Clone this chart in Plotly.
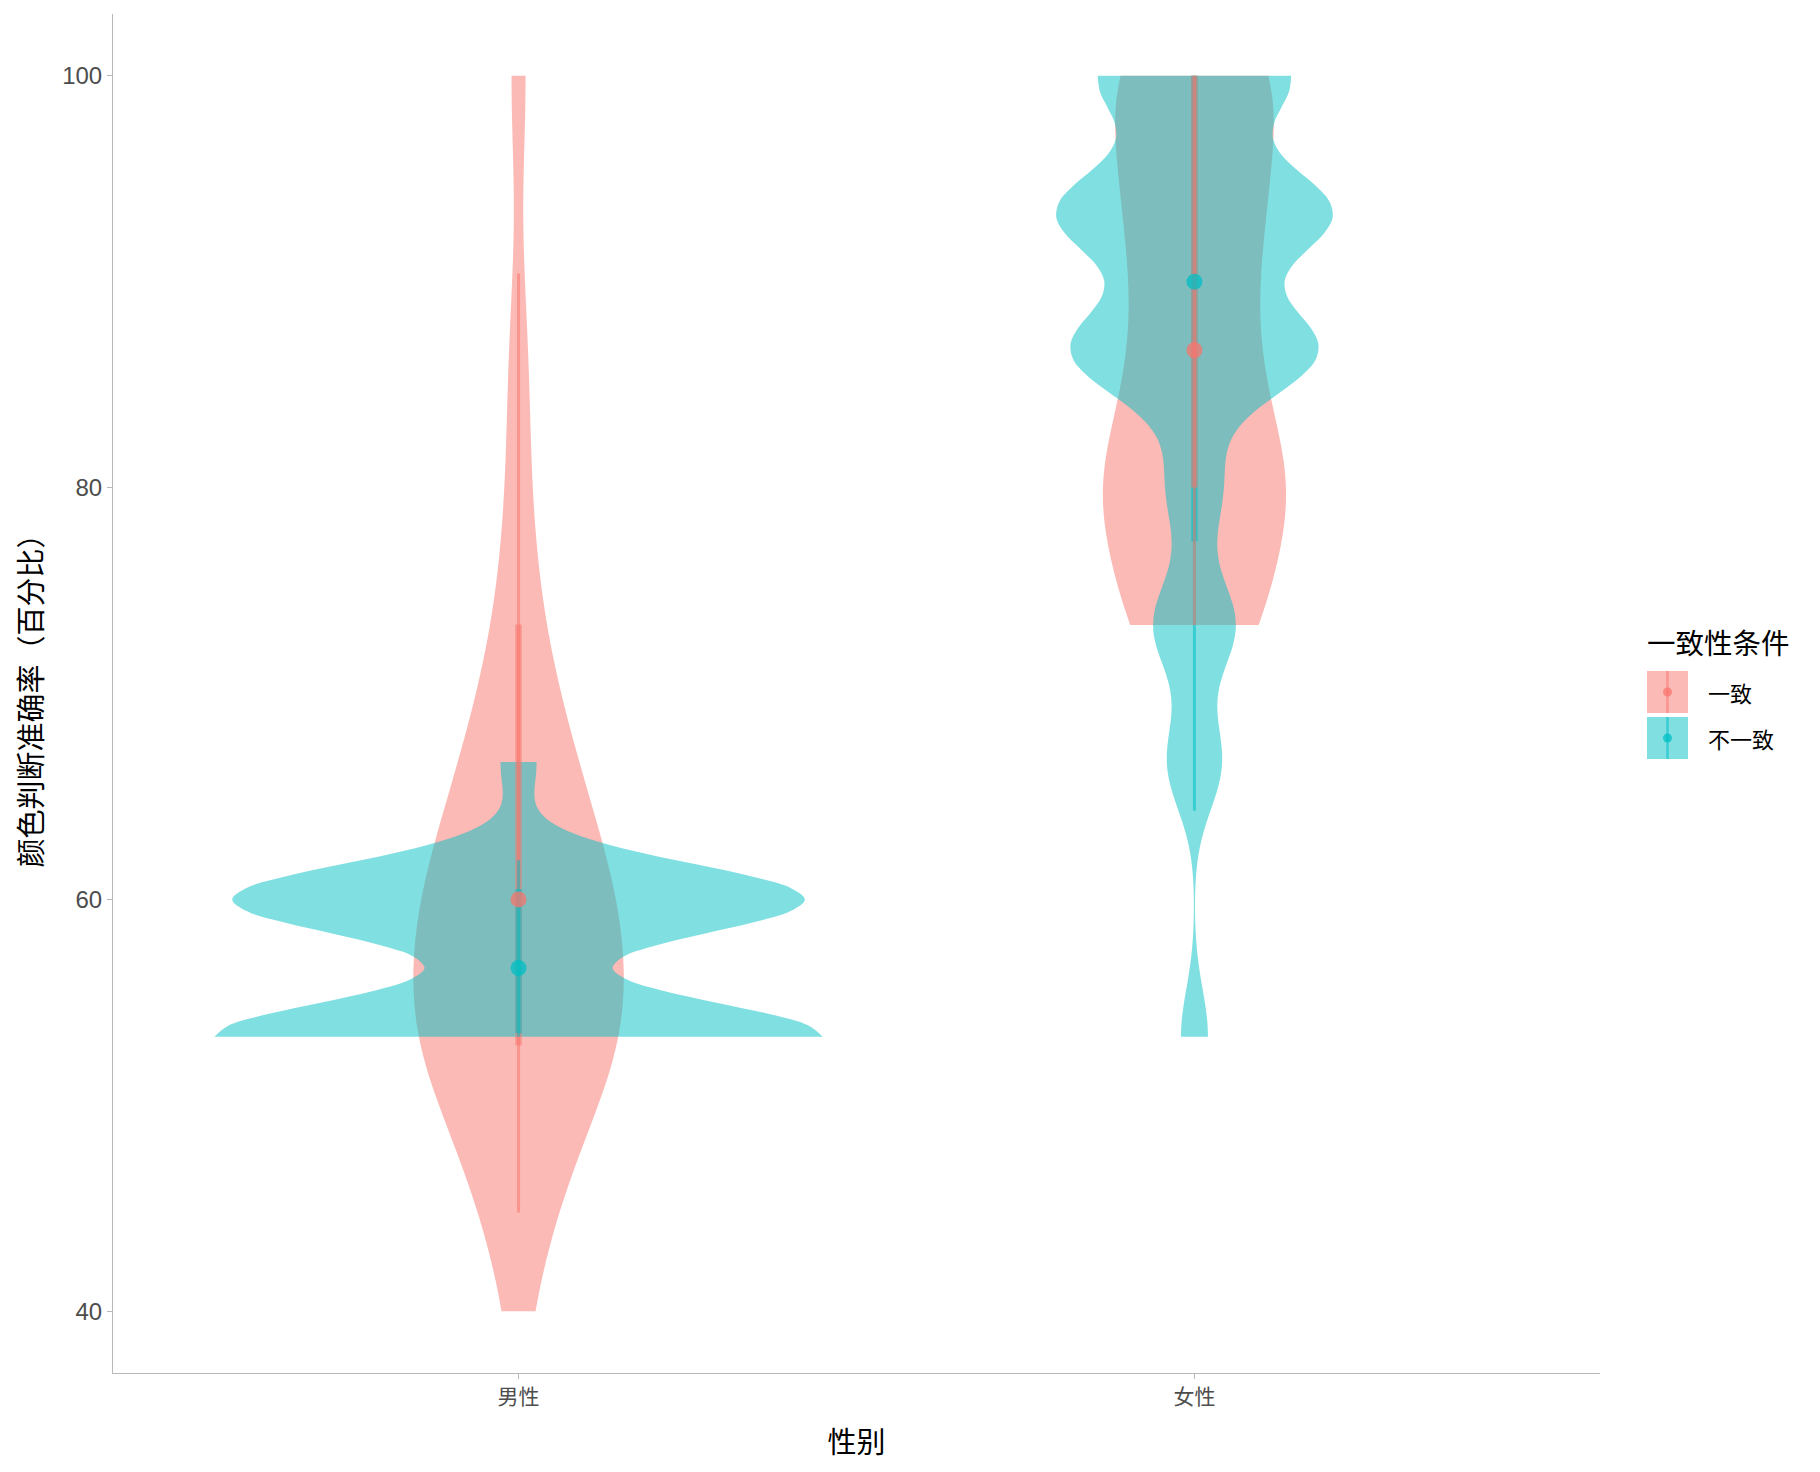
import numpy as np
import plotly.graph_objects as go

# ---------------- data ----------------
categories = ["男性", "女性"]
conditions = ["一致", "不一致"]

# accuracy levels (percent)
levels = [40.0, 46.67, 53.33, 60.0, 66.67, 73.33, 80.0, 86.67, 93.33, 100.0]

# number of observations at each level (estimated from the violins)
male_cong_counts = [1, 4, 10, 9, 5, 2, 1, 1, 0, 1]
male_incong_counts = [0, 0, 17, 16, 1, 0, 0, 0, 0, 0]
female_cong_counts = [0, 0, 0, 0, 0, 6, 9, 5, 6, 8]
female_incong_counts = [0, 0, 1, 0, 2, 3, 2, 9, 10, 7]

# kernel bandwidths (estimated from the violin shapes)
bw_male = [4.5, 1.74]      # 一致, 不一致
bw_female = [4.0, 2.3]

# summaries: median point, thin range, thick range
median_cong = [60.0, 86.67]
median_incong = [56.67, 90.0]
thin_lo_cong = [44.8, 73.33]
thin_hi_cong = [90.4, 100.0]
thin_lo_incong = [53.33, 64.3]
thin_hi_incong = [61.9, 100.0]
thick_lo_cong = [52.9, 80.0]
thick_hi_cong = [73.35, 100.0]
thick_lo_incong = [53.5, 77.4]
thick_hi_incong = [60.5, 100.0]

# ---------------- styling ----------------
RED = (248, 118, 109)
CYAN = (0, 191, 196)


def rgba(c, a):
    return "rgba(%d,%d,%d,%.3f)" % (c[0], c[1], c[2], a)


cond_colors = [RED, CYAN]
CJK = "Noto Sans CJK SC"

# the page body adds an 8 px offset; the figure is sized to fit the window
OFF = 8
W, H = 1812, 1464
ML, MR, MT, MB = 105, 220, 6, 99


def px_x(px):
    # page pixel -> paper coordinate
    return (px - OFF - ML) / (W - ML - MR)


def px_y(py):
    return (H - MB - (py - OFF)) / (H - MT - MB)


counts = {
    ("男性", 0): male_cong_counts,
    ("男性", 1): male_incong_counts,
    ("女性", 0): female_cong_counts,
    ("女性", 1): female_incong_counts,
}
bws = {
    ("男性", 0): bw_male[0],
    ("男性", 1): bw_male[1],
    ("女性", 0): bw_female[0],
    ("女性", 1): bw_female[1],
}

fig = go.Figure()

# violins: 一致 first, 不一致 drawn on top; all share one density scale
for ci, cond in enumerate(conditions):
    for gi, cat in enumerate(categories):
        y = np.repeat(np.array(levels), counts[(cat, ci)])
        fig.add_trace(go.Violin(
            x=[cat] * len(y),
            y=y,
            name=cond,
            showlegend=False,
            fillcolor=rgba(cond_colors[ci], 0.5),
            line=dict(width=0, color=rgba(cond_colors[ci], 0.5)),
            bandwidth=bws[(cat, ci)],
            spanmode="hard",
            scalegroup="all",
            scalemode="width",
            points=False,
            box_visible=False,
            meanline_visible=False,
            hoverinfo="skip",
        ))

summ = {
    0: dict(med=median_cong, tlo=thin_lo_cong, thi=thin_hi_cong,
            klo=thick_lo_cong, khi=thick_hi_cong),
    1: dict(med=median_incong, tlo=thin_lo_incong, thi=thin_hi_incong,
            klo=thick_lo_incong, khi=thick_hi_incong),
}

# drawing order of the summary ranges inside each category
draw_order = {"男性": [0, 1], "女性": [1, 0]}

for gi, cat in enumerate(categories):
    for ci in draw_order[cat]:
        s = summ[ci]
        col = cond_colors[ci]
        fig.add_trace(go.Scatter(
            x=[cat, cat], y=[s["klo"][gi], s["khi"][gi]], mode="lines",
            line=dict(color=rgba(col, 0.55), width=6.5),
            showlegend=False, hoverinfo="skip"))
        fig.add_trace(go.Scatter(
            x=[cat, cat], y=[s["tlo"][gi], s["thi"][gi]], mode="lines",
            line=dict(color=rgba(col, 0.55), width=3),
            showlegend=False, hoverinfo="skip"))

for gi, cat in enumerate(categories):
    for ci in [0, 1]:
        s = summ[ci]
        fig.add_trace(go.Scatter(
            x=[cat], y=[s["med"][gi]], mode="markers",
            marker=dict(size=16, color=rgba(cond_colors[ci], 0.75),
                        line=dict(width=0)),
            showlegend=False, hoverinfo="skip"))

# ---------------- legend (drawn like the ggplot key) ----------------
shapes = []
annotations = []
annotations.append(dict(
    text="一致性条件", x=px_x(1645), y=px_y(641), xref="paper", yref="paper",
    xanchor="left", yanchor="middle", showarrow=False,
    font=dict(family=CJK, size=28.5, color="black")))
key_tops = [671, 717]
key_h = 42
for ci, cond in enumerate(conditions):
    top = key_tops[ci]
    col = cond_colors[ci]
    shapes.append(dict(type="rect", xref="paper", yref="paper",
                       x0=px_x(1647), x1=px_x(1688), y0=px_y(top + key_h), y1=px_y(top),
                       fillcolor=rgba(col, 0.5), line=dict(width=0), layer="above"))
    shapes.append(dict(type="line", xref="paper", yref="paper",
                       x0=px_x(1667.5), x1=px_x(1667.5), y0=px_y(top + key_h), y1=px_y(top),
                       line=dict(color=rgba(col, 0.55), width=2.5), layer="above"))
    cy = top + key_h / 2
    shapes.append(dict(type="circle", xref="paper", yref="paper",
                       x0=px_x(1663), x1=px_x(1672), y0=px_y(cy + 4.5), y1=px_y(cy - 4.5),
                       fillcolor=rgba(col, 0.75), line=dict(width=0), layer="above"))
    annotations.append(dict(
        text=cond, x=px_x(1706), y=px_y(cy), xref="paper", yref="paper",
        xanchor="left", yanchor="middle", showarrow=False,
        font=dict(family=CJK, size=22, color="black")))

axis_grey = "#b8b8b8"
fig.update_layout(
    width=W, height=H,
    paper_bgcolor="white", plot_bgcolor="white",
    margin=dict(l=ML, r=MR, t=MT, b=MB),
    violinmode="overlay",
    violingap=0.1, violingroupgap=0.0,
    font=dict(family=CJK, color="black"),
    showlegend=False,
    shapes=shapes,
    annotations=annotations,
    xaxis=dict(
        type="category", categoryorder="array", categoryarray=categories,
        range=[-0.6, 1.6], automargin=False,
        showline=True, linecolor=axis_grey, linewidth=1,
        ticks="outside", ticklen=5, tickcolor=axis_grey,
        showgrid=False, zeroline=False,
        tickfont=dict(family=CJK, size=21, color="#4d4d4d"),
        title=dict(text="性别", font=dict(family=CJK, size=29, color="black"), standoff=23),
    ),
    yaxis=dict(
        range=[37, 103], tickvals=[40, 60, 80, 100], automargin=False,
        showline=True, linecolor=axis_grey, linewidth=1,
        ticks="outside", ticklen=5, tickcolor=axis_grey,
        showgrid=False, zeroline=False,
        tickfont=dict(family="Liberation Sans, " + CJK, size=24, color="#4d4d4d"),
        title=dict(text="颜色判断准确率（百分比）", font=dict(family=CJK, size=29, color="black"), standoff=26),
    ),
)

fig.write_html("out.html")
